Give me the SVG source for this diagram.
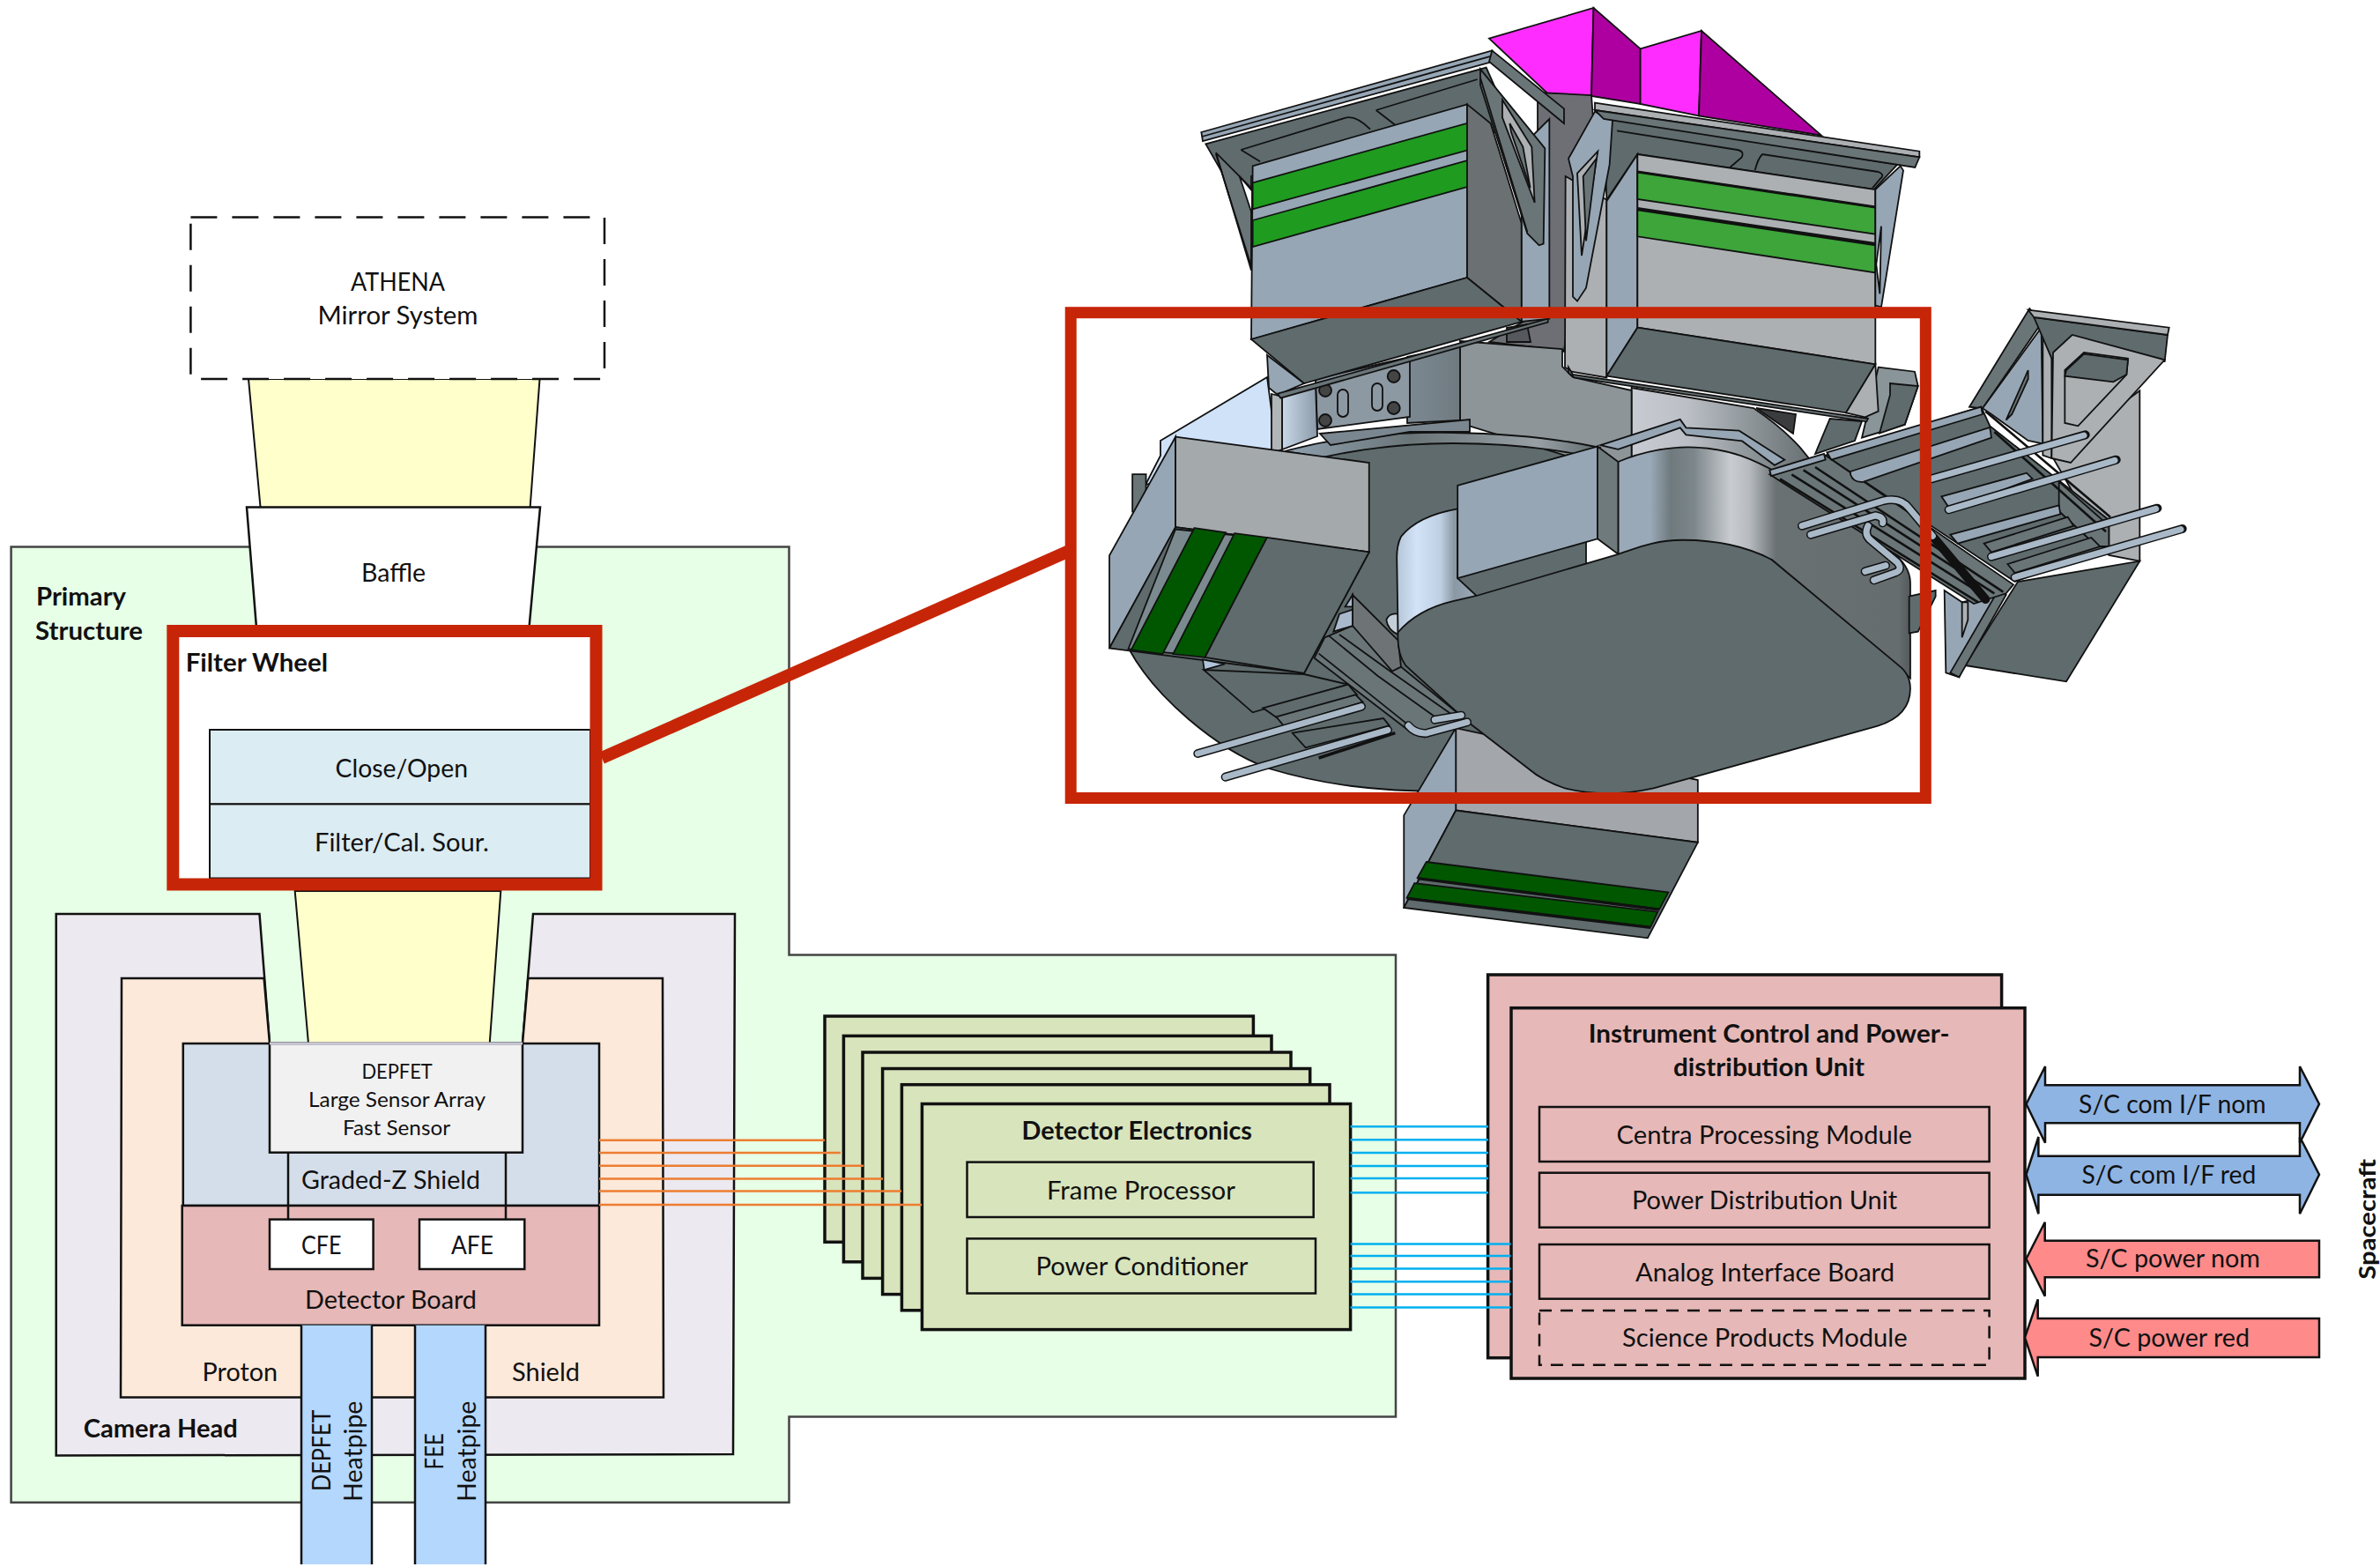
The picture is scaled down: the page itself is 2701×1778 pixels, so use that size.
<svg xmlns="http://www.w3.org/2000/svg" width="2701" height="1778" viewBox="0 0 2701 1778">
<defs>
<linearGradient id="gWall" gradientUnits="userSpaceOnUse" x1="980" y1="0" x2="1475" y2="0"><stop offset="0" stop-color="#9aa9b8"/><stop offset=".11" stop-color="#9aa9b8"/><stop offset=".18" stop-color="#6f7a7e"/><stop offset=".26" stop-color="#7d878b"/><stop offset=".385" stop-color="#c9ccd1"/><stop offset=".45" stop-color="#b6babf"/><stop offset=".54" stop-color="#6a7173"/><stop offset=".96" stop-color="#666d6f"/><stop offset="1" stop-color="#55595c"/></linearGradient>
<linearGradient id="gBand" gradientUnits="userSpaceOnUse" x1="605" y1="0" x2="740" y2="0"><stop offset="0" stop-color="#b5c6d8"/><stop offset=".25" stop-color="#d2e3f8"/><stop offset=".55" stop-color="#bfcfe2"/><stop offset=".72" stop-color="#8b98a4"/><stop offset="1" stop-color="#9aa9b8"/></linearGradient>
<linearGradient id="gCyl" gradientUnits="userSpaceOnUse" x1="1851" y1="0" x2="2060" y2="0"><stop offset="0" stop-color="#c8ccd2"/><stop offset=".3" stop-color="#bcc0c6"/><stop offset=".65" stop-color="#8d9599"/><stop offset="1" stop-color="#666d70"/></linearGradient>
<linearGradient id="gRing" gradientUnits="userSpaceOnUse" x1="1458" y1="0" x2="1816" y2="0"><stop offset="0" stop-color="#8fa0ae"/><stop offset=".4" stop-color="#6a7578"/><stop offset=".8" stop-color="#98a0a6"/><stop offset="1" stop-color="#5f6b6d"/></linearGradient>
<linearGradient id="gPil" gradientUnits="userSpaceOnUse" x1="1455" y1="0" x2="1495" y2="0"><stop offset="0" stop-color="#c9d8e8"/><stop offset="1" stop-color="#8a9aa8"/></linearGradient>
<linearGradient id="gPil2" gradientUnits="userSpaceOnUse" x1="1605" y1="0" x2="1657" y2="0"><stop offset="0" stop-color="#7b8790"/><stop offset="1" stop-color="#6f7a80"/></linearGradient>
</defs>
<style>
text{font-family:Lato,"Liberation Sans",sans-serif;font-size:28px;fill:#111}
.b7{font-weight:700}
.sm{font-size:24px}
.ln{fill:none;stroke:#111;stroke-width:2.5}
.box{stroke:#111;stroke-width:2.5}
.card{fill:#d8e4bc;stroke:#111;stroke-width:3.5}
.icpu{fill:#e6b8b7;stroke:#111;stroke-width:3.5}
.sub{fill:none;stroke:#111;stroke-width:2.5}
.com{fill:#8eb4e3;stroke:#111;stroke-width:2.5}
.pow{fill:#ff8a8a;stroke:#111;stroke-width:2.5}
.or line{stroke:#ed7d31;stroke-width:2.5}
.bl line{stroke:#00b0f0;stroke-width:2.5}
#cad polygon,#cad path,#cad line,#cad rect,#cad circle,#cad ellipse,#cad polyline{vector-effect:non-scaling-stroke;stroke:#111;stroke-width:1.8}
#cad polyline{fill:none}
.d{fill:#5f6b6d}.b{fill:#96a6b5}.g{fill:#acb0b3}.m{fill:#6a7578}.n{fill:none}
#cad .pipeo{fill:none;stroke:#111;stroke-width:10;stroke-linecap:round}
#cad .pipei{fill:none;stroke:#a9b9c8;stroke-width:7;stroke-linecap:round}
</style>

<g id="primary-structure">
<polygon points="12.6,620.5 895.5,620.5 895.5,1083.5 1584,1083.5 1584,1607.5 895.5,1607.5 895.5,1704.7 12.6,1704.7" fill="#e6ffe6" stroke="#444" stroke-width="2.5"/>
<text class="b7" x="41" y="687" textLength="102" lengthAdjust="spacingAndGlyphs">Primary</text>
<text class="b7" x="40" y="725.6" textLength="122" lengthAdjust="spacingAndGlyphs">Structure</text>
</g>

<g id="beam-upper"><polygon points="282,430 612.5,430 601.6,576 295.6,576" fill="#ffffcb" stroke="#111" stroke-width="2"/></g>

<g id="mirror">
<rect x="216.4" y="246.5" width="469.6" height="183.5" fill="#fff" stroke="#111" stroke-width="2.5" stroke-dasharray="30 17"/>
<text x="398" y="329.7" textLength="107" lengthAdjust="spacingAndGlyphs">ATHENA</text>
<text x="360.5" y="368" textLength="182" lengthAdjust="spacingAndGlyphs">Mirror System</text>
</g>

<g id="baffle">
<polygon points="280,575.6 613,575.6 600.5,712 291,712" fill="#fff" stroke="#111" stroke-width="2.5"/>
<text x="410" y="660" textLength="73" lengthAdjust="spacingAndGlyphs">Baffle</text>
</g>

<g id="camera-head">
<polygon points="63.7,1037 294.5,1037 306,1184 593,1184 605,1037 834,1037 832,1650 63.7,1651.5" fill="#ece9f0" stroke="#111" stroke-width="2.5"/>
<text class="b7" x="94.7" y="1631" textLength="175" lengthAdjust="spacingAndGlyphs">Camera Head</text>
</g>
<g id="proton-shield">
<polygon points="138,1110 299.6,1110 306,1184 593,1184 599.3,1110 752,1110 753,1585.6 137,1585.6" fill="#fce9da" stroke="#111" stroke-width="2.5"/>
<text x="229.6" y="1566.7" textLength="85.5" lengthAdjust="spacingAndGlyphs">Proton</text>
<text x="581" y="1566.7" textLength="77" lengthAdjust="spacingAndGlyphs">Shield</text>
</g>
<g id="beam-lower"><polygon points="334.7,1011 568.3,1011 555.7,1184 350,1184" fill="#ffffcb" stroke="#111" stroke-width="2"/></g>

<g id="graded-z-shield">
<rect x="207.8" y="1184" width="472.2" height="184" fill="#d4deea" class="box"/>
<line x1="327" y1="1307" x2="327" y2="1384" class="ln"/>
<line x1="574" y1="1307" x2="574" y2="1384" class="ln"/>
<text x="342" y="1349" textLength="203" lengthAdjust="spacingAndGlyphs">Graded-Z Shield</text>
</g>
<g id="depfet">
<rect x="306" y="1184" width="287" height="123.7" fill="#f1f1f1" stroke="#111" stroke-width="2.5"/>
<line x1="306" y1="1184" x2="593" y2="1184" stroke="#c9c6d6" stroke-width="3"/>
<text class="sm" x="410.4" y="1223.8" textLength="80.4" lengthAdjust="spacingAndGlyphs">DEPFET</text>
<text class="sm" x="350" y="1256" textLength="201" lengthAdjust="spacingAndGlyphs">Large Sensor Array</text>
<text class="sm" x="389" y="1288" textLength="122" lengthAdjust="spacingAndGlyphs">Fast Sensor</text>
</g>
<g id="detector-board">
<rect x="206.7" y="1368" width="473.3" height="135.7" fill="#e6b8b7" class="box"/>
<line x1="327" y1="1368" x2="327" y2="1384" class="ln"/>
<line x1="574" y1="1368" x2="574" y2="1384" class="ln"/>
<text x="346" y="1485" textLength="195" lengthAdjust="spacingAndGlyphs">Detector Board</text>
</g>
<g id="cfe"><rect x="306" y="1383.6" width="117.6" height="56.4" fill="#fff" class="box"/><text x="342" y="1423" textLength="45.5" lengthAdjust="spacingAndGlyphs">CFE</text></g>
<g id="afe"><rect x="476" y="1383.6" width="119.3" height="56.4" fill="#fff" class="box"/><text x="512" y="1423" textLength="48" lengthAdjust="spacingAndGlyphs">AFE</text></g>

<g id="depfet-heatpipe">
<rect x="342" y="1503.7" width="80" height="271.3" fill="#b3d7fd"/>
<line x1="342" y1="1503.7" x2="342" y2="1775" class="ln"/><line x1="422" y1="1503.7" x2="422" y2="1775" class="ln"/>
<text x="375" y="1692" transform="rotate(-90 375 1692)" textLength="92.5" lengthAdjust="spacingAndGlyphs">DEPFET</text>
<text x="411" y="1703.7" transform="rotate(-90 411 1703.7)" textLength="114" lengthAdjust="spacingAndGlyphs">Heatpipe</text>
</g>
<g id="fee-heatpipe">
<rect x="471" y="1503.7" width="80" height="271.3" fill="#b3d7fd"/>
<line x1="471" y1="1503.7" x2="471" y2="1775" class="ln"/><line x1="551" y1="1503.7" x2="551" y2="1775" class="ln"/>
<text x="503" y="1667.5" transform="rotate(-90 503 1667.5)" textLength="41.5" lengthAdjust="spacingAndGlyphs">FEE</text>
<text x="540" y="1703.7" transform="rotate(-90 540 1703.7)" textLength="114" lengthAdjust="spacingAndGlyphs">Heatpipe</text>
</g>

<g id="filter-wheel">
<rect x="203" y="723" width="467" height="273.5" fill="#fff"/>
<g id="close-open"><rect x="238" y="828" width="432" height="84.4" fill="#dbecf2" stroke="#111" stroke-width="2"/><text x="380.6" y="881.7" textLength="150.4" lengthAdjust="spacingAndGlyphs">Close/Open</text></g>
<g id="filter-cal"><rect x="238" y="912.4" width="432" height="84.1" fill="#dbecf2" stroke="#111" stroke-width="2"/><text x="357" y="966" textLength="198" lengthAdjust="spacingAndGlyphs">Filter/Cal. Sour.</text></g>
<rect x="196.3" y="716" width="480.2" height="287.5" fill="none" stroke="#c72507" stroke-width="14"/>
<text class="b7" x="210.7" y="762" textLength="161.3" lengthAdjust="spacingAndGlyphs">Filter Wheel</text>
</g>

<g id="detector-electronics">
<rect x="936" y="1153" width="486.4" height="256.3" class="card"/>
<rect x="957.4" y="1175.4" width="485.6" height="256.4" class="card"/>
<rect x="979" y="1194" width="486" height="256.4" class="card"/>
<rect x="1001.6" y="1212.5" width="485.1" height="256.1" class="card"/>
<rect x="1023.4" y="1230.7" width="485.6" height="256.1" class="card"/>
<rect x="1046.4" y="1252.5" width="486.2" height="256.1" class="card"/>
<text class="b7" x="1159.5" y="1292.5" textLength="261.5" lengthAdjust="spacingAndGlyphs">Detector Electronics</text>
<g id="frame-processor"><rect x="1097.5" y="1318.6" width="393.2" height="62.4" class="sub"/><text x="1188" y="1361" textLength="214" lengthAdjust="spacingAndGlyphs">Frame Processor</text></g>
<g id="power-conditioner"><rect x="1097.5" y="1405.4" width="395.5" height="62.1" class="sub"/><text x="1175.5" y="1446.8" textLength="241" lengthAdjust="spacingAndGlyphs">Power Conditioner</text></g>
</g>

<g id="icpu">
<rect x="1688.6" y="1106" width="583" height="434.7" class="icpu"/>
<rect x="1715" y="1143.7" width="583" height="420.3" class="icpu"/>
<text class="b7" x="1802.8" y="1183.3" textLength="409.7" lengthAdjust="spacingAndGlyphs">Instrument Control and Power-</text>
<text class="b7" x="1899" y="1221.3" textLength="217" lengthAdjust="spacingAndGlyphs">distribution Unit</text>
<g id="cpm"><rect x="1747" y="1256" width="510.6" height="62" class="sub"/><text x="1834.6" y="1297.7" textLength="335.4" lengthAdjust="spacingAndGlyphs">Centra Processing Module</text></g>
<g id="pdu"><rect x="1747" y="1330.7" width="510.6" height="62" class="sub"/><text x="1852" y="1371.7" textLength="301" lengthAdjust="spacingAndGlyphs">Power Distribution Unit</text></g>
<g id="aib"><rect x="1747" y="1412" width="510.6" height="61.7" class="sub"/><text x="1856" y="1454" textLength="294" lengthAdjust="spacingAndGlyphs">Analog Interface Board</text></g>
<g id="spm"><rect x="1747" y="1487" width="510.6" height="61.7" class="sub" stroke-dasharray="14 10"/><text x="1841" y="1528.3" textLength="323.6" lengthAdjust="spacingAndGlyphs">Science Products Module</text></g>
</g>

<g id="sc-com-red"><polygon class="com" points="2299.5,1332.7 2313.4,1290 2313.4,1311.7 2610,1311.7 2610,1290 2632,1332.7 2610,1377.3 2610,1355.7 2313.4,1355.7 2313.4,1377.3"/><text x="2362.5" y="1342.7" textLength="197.9" lengthAdjust="spacingAndGlyphs">S/C com I/F red</text></g>
<g id="sc-com-nom"><polygon class="com" points="2299.5,1252.7 2321,1210 2321,1231.3 2610,1231.3 2610,1210 2632,1252.7 2610,1296.7 2610,1274.3 2321,1274.3 2321,1296.7"/><text x="2359" y="1262.7" textLength="212.7" lengthAdjust="spacingAndGlyphs">S/C com I/F nom</text></g>
<g id="sc-power-nom"><polygon class="pow" points="2299.5,1428.3 2320.7,1386.7 2320.7,1407.7 2632,1407.7 2632,1449.3 2320.7,1449.3 2320.7,1470.7"/><text x="2367" y="1438.3" textLength="198" lengthAdjust="spacingAndGlyphs">S/C power nom</text></g>
<g id="sc-power-red"><polygon class="pow" points="2298,1517.7 2312.7,1474.3 2312.7,1496 2632,1496 2632,1540 2312.7,1540 2312.7,1561.7"/><text x="2370.5" y="1528.3" textLength="182.5" lengthAdjust="spacingAndGlyphs">S/C power red</text></g>
<g id="spacecraft"><text class="b7" x="2696" y="1451.7" transform="rotate(-90 2696 1451.7)" style="font-size:27px" textLength="136.7" lengthAdjust="spacingAndGlyphs">Spacecraft</text></g>

<g id="connectors">
<g class="or">
<line x1="680" y1="1293.7" x2="936" y2="1293.7"/><line x1="680" y1="1308" x2="954" y2="1308"/><line x1="680" y1="1322.8" x2="980" y2="1322.8"/><line x1="680" y1="1337.5" x2="1002" y2="1337.5"/><line x1="680" y1="1351.4" x2="1023" y2="1351.4"/><line x1="680" y1="1367" x2="1046" y2="1367"/>
</g>
<g class="bl">
<line x1="1532.6" y1="1278.2" x2="1689" y2="1278.2"/><line x1="1532.6" y1="1293.2" x2="1689" y2="1293.2"/><line x1="1532.6" y1="1307.9" x2="1689" y2="1307.9"/><line x1="1532.6" y1="1322.9" x2="1689" y2="1322.9"/><line x1="1532.6" y1="1337" x2="1689" y2="1337"/><line x1="1532.6" y1="1353.2" x2="1689" y2="1353.2"/>
<line x1="1532.6" y1="1411.4" x2="1714.6" y2="1411.4"/><line x1="1532.6" y1="1425" x2="1714.6" y2="1425"/><line x1="1532.6" y1="1439.6" x2="1714.6" y2="1439.6"/><line x1="1532.6" y1="1454.3" x2="1714.6" y2="1454.3"/><line x1="1532.6" y1="1468.6" x2="1714.6" y2="1468.6"/><line x1="1532.6" y1="1483.6" x2="1714.6" y2="1483.6"/>
</g>
</g>

<g id="cad">
<g id="magenta">
<polygon points="1690,43.6 1808.5,9 1806,109 1769,118" fill="#ff2cff"/>
<polygon points="1808.5,9 1861.6,55.4 1861.6,118 1806,109" fill="#ae00a0"/>
<polygon points="1861.6,55.4 1931,35 1928,131.4 1861.6,118" fill="#ff2cff"/>
<polygon points="1931,35 2067,153.6 1928,131.4" fill="#ae00a0"/>
</g>

<g id="right-assembly-back" transform="translate(2000 330) scale(.33333)">
<polygon class="g" points="985,560 1285,340 1285,920 1180,900"/>
<polygon class="d" points="690,1275 870,990 1285,920 1035,1330"/>
<polygon class="m" points="705,395 910,60 950,110 750,400"/>
<polygon class="b" points="750,400 950,125 955,520 905,510 780,420"/>
<polygon class="m" points="830,440 905,270 905,300 850,420"/>
<polygon class="g" points="955,125 985,125 985,570 955,560"/>
<polygon class="d" points="925,90 1380,150 1370,240 985,230"/>
<polygon class="g" points="905,65 1385,125 1380,150 925,90"/>
<polygon class="g" points="990,210 1055,150 1370,235 1050,585 985,570"/>
<polygon class="g" points="1030,270 1095,210 1245,230 1240,285 1075,460 1030,450"/>
<polygon class="d" points="1035,270 1095,215 1245,235 1240,285 1195,310 1030,290"/>
<polygon class="b" points="620,1020 680,1060 800,1030 670,1315 625,1300"/>
<polygon class="g" points="680,1060 700,1060 700,1120 680,1180"/>
<polygon class="m" points="800,1025 830,1035 670,1315 640,1300"/>
</g>

<polygon fill="#d0e2f8" points="1317,500 1438,428 1450,520 1300,550 1317,517"/>
<path class="d" d="M1262,725 L1281,736 C1310,790 1380,850 1440,872 C1500,890 1560,898 1640,898 L1800,898 L1800,505 L1650,495 C1560,495 1500,505 1458,515 L1300,560 Z"/>

<polygon fill="#6d6f75" points="1745,105 1806,108 1815,230 1780,400 1745,392"/>
<polygon fill="#6d6f75" points="1690,388 1745,355 1780,360 1775,398"/>
<polygon fill="#55585c" points="1710,372 1733,368 1737,388 1710,388"/>
<path fill="url(#gCyl)" d="M1851.6,440 L1990,463 C2030,490 2060,520 2075,560 L2010,640 L1851.6,640 Z"/>
<polygon fill="#3a3c3d" points="1993,463 2038,470 2035,492"/>
<polygon fill="#8d9599" points="1657,387 1773,396 1773,416 1785,428 1851.6,443 1851.6,540 1657,480"/>
<polygon fill="url(#gPil2)" points="1597,405 1657,392 1657,477 1597,480"/>
<polygon fill="#8c98a2" points="1493,430 1600,405 1600,473 1495,487"/>
<rect x="1518" y="442" width="12" height="31" rx="6" fill="none"/><rect x="1557" y="435" width="12" height="31" rx="6" fill="none"/>
<circle cx="1504" cy="443" r="7" fill="#444"/><circle cx="1581.7" cy="427" r="7" fill="#444"/><circle cx="1504" cy="477" r="7" fill="#444"/><circle cx="1581.7" cy="463" r="7" fill="#444"/>
<polygon fill="url(#gPil)" points="1455,445 1493,436 1495,495 1455,510"/>
<polygon fill="#b0b5b8" points="1443,447 1455,450 1455,510 1443,514"/>
<polygon class="b" points="1438,403 1440,440 1450,448 1480,435"/>
<path fill="url(#gRing)" d="M1458,512 C1520,495 1580,490 1649,491 C1710,492 1770,498 1816,508 L1813,520 C1760,508 1700,503 1649,503 C1600,503 1550,508 1501,519 Z"/>
<polygon fill="#7b8790" points="1498,492 1668,476 1668,490 1600,490 1510,505"/>
<polygon class="d" points="2060,515 2076.7,475 2113,478 2105,500"/>
<polygon fill="#8a9599" points="2131.7,416.7 2173,421.7 2176.7,438 2161.7,481.7 2113,496.7"/>
<polygon class="d" points="2145,435 2176.7,438 2161.7,481.7 2133,491.7 2145,448"/>

<g id="box-top-left" transform="translate(1340 0) scale(.33333)">
<polygon class="d" points="85,490 1040,230 1160,500 975,400 240,600 240,760"/>
<path class="n" d="M205,510 L565,400 Q600,395 645,440 M270,550 L205,510 M665,375 L1010,270 M665,375 L730,425"/>
<polygon class="m" points="120,520 240,640 240,920"/>
<polygon fill="#fff" points="200,600 243,650 243,730"/>
<line x1="120" y1="525" x2="238" y2="900"/>
<polygon class="b" points="1160,500 1255,405 1255,1085 1160,1095"/>
<polygon class="b" points="245,565 975,355 975,945 240,1155"/>
<polygon fill="#1f9b1f" points="245,622 980,418 980,510 245,712"/>
<polygon fill="#1f9b1f" points="245,750 980,545 980,635 245,840"/>
<polygon fill="#6b7173" points="975,355 1055,420 1160,760 1160,1095 975,945"/>
<polygon class="m" points="1020,235 1240,505 1235,830 1220,835 1180,795 1020,290"/>
<polygon class="g" points="1095,340 1195,500 1205,690 1095,400"/>
<polygon class="m" points="1120,420 1165,500 1190,640 1125,450"/>
<line x1="1020" y1="265" x2="1180" y2="790"/>
<polygon class="d" points="240,1155 975,945 1160,1095 420,1305"/>
<polygon class="b" points="70,450 1060,172 1060,210 75,480"/>
<line x1="72" y1="465" x2="1060" y2="190"/>
<polygon class="m" points="1060,172 1305,370 1305,420 1050,210"/>
<polygon class="m" points="330,1340 1250,1085 1250,1097 340,1355"/>
</g>

<g id="box-top-right" transform="translate(1780 100) scale(.33333)">
<polygon class="d" points="120,100 1120,260 1040,345 235,225 130,380"/>
<path class="n" d="M165,145 L575,210 Q600,215 590,235 L550,270 M660,225 L1055,285 Q1080,295 1060,310 L1035,340 M660,225 Q645,240 635,280"/>
<polygon class="g" points="-10,300 130,380 130,985 10,965 -12,950"/>
<polygon class="b" points="0,240 90,80 150,110 140,260 60,680 30,725 15,710 15,300"/>
<polygon class="g" points="100,215 45,570 30,290"/>
<polygon class="m" points="95,240 60,520 50,300"/>
<polygon class="b" points="235,225 130,385 130,980 235,815"/>
<polygon class="g" points="235,225 1045,345 1045,940 235,815"/>
<polygon fill="#3da53a" points="235,285 1045,405 1045,497 235,378"/>
<polygon fill="#3da53a" points="235,415 1045,535 1045,628 235,505"/>
<line x1="235" y1="285" x2="1045" y2="405" style="stroke-width:3.2"/><line x1="235" y1="410" x2="1045" y2="530" style="stroke-width:3.2"/>
<polygon class="d" points="235,815 1045,940 945,1105 130,980"/>
<polygon class="g" points="1045,940 1055,1100 1010,1120 945,1105"/>
<polygon class="m" points="0,950 15,975 1020,1125 1015,1135 20,985 0,970"/>
<polygon class="b" points="1130,265 1045,345 1045,740 1065,745 1140,280"/>
<polygon fill="#fff" points="1065,470 1048,600 1060,700"/>
<polygon class="g" points="90,50 1195,215 1195,235 90,75"/>
<polygon class="m" points="90,75 1195,235 1180,270 120,105"/>
</g>

<g id="cover-set" transform="translate(1180 340) scale(.6698 .4719)">
<polygon class="m" points="157,420 180,420 180,510 157,510"/>
<polygon class="b" points="230,330 118,615 118,838 230,547"/>
<polygon style="fill:#a4a9ac" points="230,330 558,392 558,607 230,547"/>
<polygon class="d" points="230,547 558,607 448,898 118,838"/>
<polygon fill="#7b8a8f" points="230,552 390,575 285,858 150,840"/>
<polygon fill="#005700" points="262,549 315,560 208,852 155,842"/>
<polygon fill="#005700" points="330,562 385,572 280,860 226,852"/>
<polygon class="d" points="385,572 558,607 448,898 280,860"/>

<polygon fill="#a3a6ab" points="705,1030 1115,1155 1115,1305 705,1228"/>
<polygon class="b" points="705,1030 617,1240 617,1462 705,1228"/>
<polygon class="d" points="705,1228 1115,1305 1030,1535 617,1462"/>
<polygon fill="#005700" points="655,1352 1065,1425 1050,1465 640,1390"/>
<polygon fill="#005700" points="635,1403 1047,1472 1035,1508 622,1438"/>
<line x1="640" y1="1392" x2="1050" y2="1467" style="stroke-width:3"/>
<line x1="622" y1="1440" x2="1035" y2="1510" style="stroke-width:3"/>
</g>

<g id="bracket-lower" transform="translate(1300 660) scale(.33333)">
<polygon class="d" points="198,300 365,445 690,350 540,315"/>
<polygon fill="#b0c4dc" points="195,265 200,300 270,280"/>
<polygon class="d" points="400,430 690,350 720,385 450,465"/>
<polygon class="m" points="445,460 715,385 740,410 470,490"/>
<polygon class="d" points="500,515 810,465 830,490 545,565"/>
<polygon class="m" points="575,260 610,190 705,150 870,290 1090,470 1100,480 950,530 900,510"/>
<polyline points="590,245 760,380 910,500"/>
<polyline points="625,185 790,320 1000,470"/>
<polyline points="660,180 840,310 1040,450"/>
<polygon fill="#6e7476" points="705,45 860,200 870,290 840,305 705,150"/>
<polygon fill="#aab8cc" points="640,170 705,150 705,95 660,110"/>
<polygon fill="#aab8cc" points="680,85 705,45 705,85"/>
<path fill="#c4ced8" d="M820,130 Q830,105 860,110 L860,180 Q825,165 820,130 Z"/>
<line x1="590" y1="600" x2="850" y2="515" style="stroke-width:3.5"/>
<line class="pipeo" x1="178" y1="585" x2="735" y2="425"/><line class="pipei" x1="178" y1="585" x2="735" y2="425"/>
<line class="pipeo" x1="272" y1="665" x2="825" y2="505"/><line class="pipei" x1="272" y1="665" x2="825" y2="505"/>
</g>

<g transform="translate(1180 340) scale(.6698 .4719)">
<path fill="url(#gBand)" d="M708,503 Q640,520 612,570 Q605,590 605,620 L607,800 L740,712 L708,670 Z"/>
<path fill="url(#gWall)" d="M980,390 C1020,365 1070,352 1110,355 C1170,358 1210,385 1255,420 L1440,600 Q1475,640 1475,680 L1475,910 L1240,625 L980,612 Z"/>
<polygon class="b" points="950,350 1085,288 1095,308 1185,315 1262,385 1245,398 1190,340 1095,325 1085,308 980,360"/>
<polygon class="b" points="708,447 945,353 945,575 708,670"/>
<polygon fill="#6f7a7c" points="945,353 980,390 980,612 945,575"/>
<path class="d" d="M740,712 L980,612 C1010,598 1040,578 1090,578 C1150,578 1200,595 1240,625 L1460,885 Q1475,905 1475,935 Q1475,1000 1420,1025 L1040,1175 Q960,1200 890,1175 Q850,1155 830,1130 L725,1015 L620,880 Q605,850 607,800 Q640,745 700,725 Z"/>
</g>

<g id="right-assembly-rails" transform="translate(2000 330) scale(.33333)">
<polygon fill="#5f6b6d" points="500,1040 590,1020 590,1040 530,1160 500,1165"/>
<polygon class="d" points="215,560 745,395 775,460 1180,780 1180,870 860,990"/>
<polygon class="m" points="25,625 215,560 855,1000 830,1030 720,1065"/>
<line x1="60" y1="640" x2="735" y2="1060" style="stroke-width:2.6"/><line x1="100" y1="625" x2="760" y2="1040" style="stroke-width:2.6"/><line x1="140" y1="610" x2="790" y2="1030" style="stroke-width:2.6"/><line x1="180" y1="600" x2="820" y2="1025" style="stroke-width:2.6"/>
<polygon class="m" points="1010,650 1180,800 1180,870 1140,870 1010,750"/>
<line x1="760" y1="410" x2="1185" y2="770" style="stroke-width:2.6"/><line x1="790" y1="480" x2="1170" y2="820" style="stroke-width:2.6"/>
<polygon class="b" points="220,550 745,395 750,420 235,575"/>
<path class="b" d="M300,615 L775,465 L780,500 L345,650 Q310,655 300,625 Z"/>
<polygon class="b" points="640,830 1010,730 1015,760 665,860"/>
<polygon class="m" points="755,860 1040,770 1060,800 780,890"/>
<polygon class="m" points="835,930 1120,840 1150,870 860,960"/>
<polygon class="b" points="25,610 210,555 215,575 30,630"/>
<polygon class="b" points="610,700 900,620 920,640 640,745"/>
<path class="pipeo" d="M135,800 L410,715 Q470,700 500,740 L760,1050"/><path class="pipei" d="M135,800 L410,715 Q470,700 500,740 L580,835"/>
<path class="pipeo" d="M165,830 L385,765 Q415,770 410,790"/><path class="pipei" d="M165,830 L385,765 Q415,770 410,790"/>
<path class="pipeo" d="M360,800 Q345,830 370,850 L460,925 Q480,950 450,960 L380,985"/><path class="pipei" d="M360,800 Q345,830 370,850 L460,925 Q480,950 450,960 L380,985"/>
<path class="pipeo" d="M350,955 L420,935"/><path class="pipei" d="M350,955 L420,935"/>
<line class="pipeo" x1="575" y1="640" x2="1100" y2="490"/><line class="pipei" x1="575" y1="640" x2="1095" y2="492"/>
<line class="pipeo" x1="635" y1="745" x2="1205" y2="575"/><line class="pipei" x1="635" y1="745" x2="1200" y2="577"/>
<line class="pipeo" x1="780" y1="905" x2="1345" y2="740"/><line class="pipei" x1="780" y1="905" x2="1340" y2="742"/>
<line class="pipeo" x1="860" y1="975" x2="1430" y2="810"/><line class="pipei" x1="860" y1="975" x2="1425" y2="812"/>
</g>
<g transform="translate(1300 660) scale(.33333)">
<path class="pipeo" d="M895,490 Q920,520 960,515 L1095,478"/><path class="pipei" d="M895,490 Q920,520 960,515 L1095,478"/>
<path class="pipeo" d="M985,470 L1075,455"/><path class="pipei" d="M985,470 L1075,455"/>
</g>
</g>

<g id="callout">
<rect x="1215.2" y="354.7" width="970.1" height="550.8" fill="none" stroke="#c72507" stroke-width="13"/>
<line x1="683" y1="860" x2="1218" y2="623" stroke="#c72507" stroke-width="14"/>
</g>
</svg>
